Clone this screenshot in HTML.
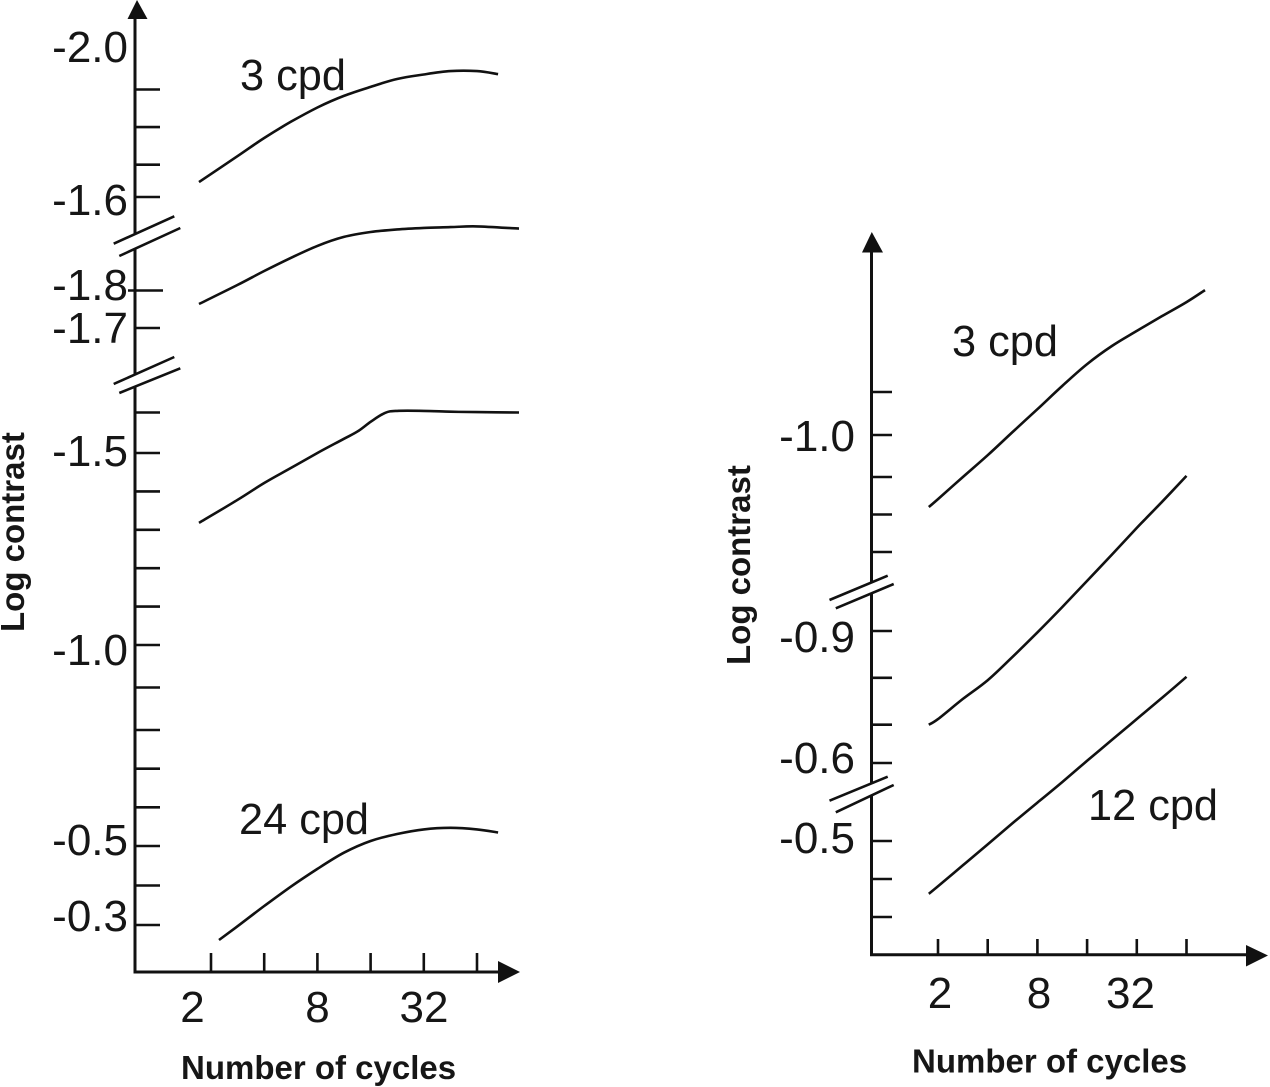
<!DOCTYPE html>
<html lang="en">
<head>
<meta charset="utf-8">
<title>Log contrast vs number of cycles</title>
<style>
  html, body { margin: 0; padding: 0; background: #fff; }
  svg { display: block; }
  text { font-family: "Liberation Sans", Arial, sans-serif; fill: #161616; }
  .tick-label { font-size: 44px; }
  .series-label { font-size: 43.3px; }
  .axis-title { font-size: 33px; font-weight: bold; }
  .axis { stroke: #111; stroke-width: 3; fill: none; }
  .mark { stroke: #111; stroke-width: 2.6; fill: none; }
  .curve { stroke: #111; stroke-width: 2.6; fill: none; stroke-linejoin: round; }
</style>
</head>
<body>
<svg id="chart" xmlns="http://www.w3.org/2000/svg" width="1270" height="1087" viewBox="0 0 1270 1087">
  <rect width="1270" height="1087" fill="#fff"/>

  <g id="left-panel">
    <path class="axis" d="M135 14V973.5"/>
    <path class="axis" d="M133.5 972H505"/>
    <polygon points="137,0 127.5,19 147.5,19" fill="#111"/>
    <polygon points="498,961 520,972 498,983" fill="#111"/>
    <g id="left-ticks"></g>
    <g>
      <polygon points="113.7,243.7 174.3,216.3 180.3,228 119.3,256" fill="#fff"/>
      <path class="mark" d="M113.7 243.7L174.3 216.3M119.3 256L180.3 228"/>
    </g>
    <g>
      <polygon points="113.7,384 174.3,357 180.3,368.3 119.3,393" fill="#fff"/>
      <path class="mark" d="M113.7 384L174.3 357M119.3 393L180.3 368.3"/>
    </g>
    <g id="left-series"></g>

    <text class="tick-label" x="128" y="62" text-anchor="end">-2.0</text>
    <text class="tick-label" x="128" y="215" text-anchor="end">-1.6</text>
    <text class="tick-label" x="128" y="300" text-anchor="end">-1.8</text>
    <text class="tick-label" x="128" y="343" text-anchor="end">-1.7</text>
    <text class="tick-label" x="128" y="466" text-anchor="end">-1.5</text>
    <text class="tick-label" x="128" y="665" text-anchor="end">-1.0</text>
    <text class="tick-label" x="128" y="855" text-anchor="end">-0.5</text>
    <text class="tick-label" x="128" y="931" text-anchor="end">-0.3</text>

    <text class="tick-label" x="192.5" y="1022" text-anchor="middle">2</text>
    <text class="tick-label" x="317.5" y="1022" text-anchor="middle">8</text>
    <text class="tick-label" x="424" y="1022" text-anchor="middle">32</text>

    <text class="series-label" x="240" y="90">3 cpd</text>
    <text class="series-label" x="239" y="834">24 cpd</text>

    <text class="axis-title" x="181" y="1079">Number of cycles</text>
    <text class="axis-title" transform="translate(24 632) rotate(-90)">Log contrast</text>
  </g>

  <g id="right-panel">
    <path class="axis" d="M871.5 245V956"/>
    <path class="axis" d="M870 954.7H1250"/>
    <polygon points="871.8,232 862,252.5 883,252.5" fill="#111"/>
    <polygon points="1246,945 1268,955.5 1246,966.5" fill="#111"/>
    <g id="right-ticks"></g>
    <g>
      <polygon points="829.5,600 887.7,575.7 893.7,584 835.8,608.3" fill="#fff"/>
      <path class="mark" d="M829.5 600L887.7 575.7M835.8 608.3L893.7 584"/>
    </g>
    <g>
      <polygon points="829.5,800.7 887.7,776.7 893.7,785 835.8,812.3" fill="#fff"/>
      <path class="mark" d="M829.5 800.7L887.7 776.7M835.8 812.3L893.7 785"/>
    </g>
    <g id="right-series"></g>

    <text class="tick-label" x="855" y="451" text-anchor="end">-1.0</text>
    <text class="tick-label" x="855" y="652" text-anchor="end">-0.9</text>
    <text class="tick-label" x="855" y="773" text-anchor="end">-0.6</text>
    <text class="tick-label" x="855" y="853" text-anchor="end">-0.5</text>

    <text class="tick-label" x="940" y="1008" text-anchor="middle">2</text>
    <text class="tick-label" x="1039" y="1008" text-anchor="middle">8</text>
    <text class="tick-label" x="1130.5" y="1008" text-anchor="middle">32</text>

    <text class="series-label" x="952" y="356">3 cpd</text>
    <text class="series-label" x="1088" y="820">12 cpd</text>

    <text class="axis-title" x="912" y="1072.5">Number of cycles</text>
    <text class="axis-title" transform="translate(750 665) rotate(-90)">Log contrast</text>
  </g>
</svg>

<script>
// ---- x tick values (number of cycles, log-2 spaced) ----
const leftXTicks = [2, 4, 8, 16, 32, 64];
const rightXTicks = [2, 4, 8, 16, 32, 64];

// ---- y tick values by axis segment (log contrast) ----
const leftTopTicks = [-1.9, -1.8, -1.7, -1.6];
const leftMidTicks = [-1.7];
const leftCrossingTicks = [-1.8];
const leftLowTicks = [-1.6, -1.5, -1.4, -1.3, -1.2, -1.1, -1.0, -0.9, -0.8, -0.7, -0.6, -0.5, -0.4, -0.3];
const rightTopTicks = [-1.1, -1.0, -0.9, -0.8, -0.7];
const rightMidTicks = [-0.9, -0.8, -0.7, -0.6];
const rightLowTicks = [-0.5, -0.4, -0.3];

// ---- left chart series ----
const left3cpdCycles = [1.71, 2.83, 4, 5.66, 8, 11.3, 16, 22.6, 32, 45.3, 64, 84.2];
const left3cpdValues = [-1.646, -1.723, -1.771, -1.814, -1.852, -1.883, -1.907, -1.928, -1.94, -1.949, -1.949, -1.941];
const left6cpdCycles = [1.71, 2.83, 4, 5.66, 8, 11.3, 16, 22.6, 32, 45.3, 64, 110.6];
const left6cpdValues = [-1.764, -1.815, -1.852, -1.887, -1.919, -1.943, -1.956, -1.963, -1.967, -1.969, -1.971, -1.965];
const left12cpdCycles = [1.71, 2.83, 4, 5.66, 8, 11.3, 13.6, 16, 19.3, 22.6, 32, 45.3, 64, 110.6];
const left12cpdValues = [-1.318, -1.378, -1.422, -1.461, -1.5, -1.535, -1.554, -1.577, -1.599, -1.604, -1.604, -1.602, -1.601, -1.6];
const left24cpdCycles = [2.22, 2.83, 4, 5.66, 8, 11.3, 16, 22.6, 32, 45.3, 64, 84.2];
const left24cpdValues = [-0.262, -0.297, -0.348, -0.397, -0.442, -0.483, -0.513, -0.531, -0.543, -0.547, -0.543, -0.535];

// ---- right chart series ----
const rightCycles = [1.76, 2, 2.83, 4, 5.66, 8, 11.3, 16, 22.6, 32, 45.3, 64];
const right3cpdCycles = [1.76, 2, 2.83, 4, 5.66, 8, 11.3, 16, 22.6, 32, 45.3, 64, 82.8];
const right3cpdValues = [-0.82, -0.841, -0.9, -0.952, -1.007, -1.06, -1.114, -1.165, -1.207, -1.242, -1.276, -1.309, -1.337];
const right6cpdValues = [-0.7, -0.712, -0.755, -0.795, -0.845, -0.897, -0.951, -1.007, -1.063, -1.12, -1.175, -1.231];
const right12cpdValues = [-0.361, -0.381, -0.436, -0.491, -0.547, -0.601, -0.655, -0.711, -0.766, -0.821, -0.876, -0.932];

const SVG_NS = 'http://www.w3.org/2000/svg';

// Piecewise-linear axis function, extrapolating past its outer knots.
function piecewise(domain, range) {
  return function (v) {
    let i = 0;
    while (i < domain.length - 2 && v < domain[i + 1]) i++;
    const t = (v - domain[i]) / (domain[i + 1] - domain[i]);
    return range[i] + t * (range[i + 1] - range[i]);
  };
}

function logX(origin, octave) {
  return function (c) { return origin + octave * (Math.log2(c) - 1); };
}

const xLeft = logX(211, 53.2);
const xRight = logX(938, 49.7);
const yLeftTop = piecewise([-1.6, -1.7, -1.9], [197, 164.7, 89.5]);
const yLeftMid = piecewise([-1.7, -1.8], [328, 290.5]);
const yLeftLow = piecewise([-0.3, -0.5, -0.8, -1.0, -1.5, -1.6], [925, 846, 730, 645, 453, 412.5]);
const yRightTop = piecewise([-0.7, -0.9, -1.0, -1.1], [552, 477, 435, 392]);
const yRightMid = piecewise([-0.6, -0.7, -0.9], [763, 724.7, 631]);
const yRightLow = piecewise([-0.3, -0.5], [917, 841]);

function drawYTicks(groupId, ticks, y, x0, x1) {
  const group = document.getElementById(groupId);
  ticks.forEach(function (t) {
    const line = document.createElementNS(SVG_NS, 'line');
    
    
    line.setAttribute('class', 'mark');
    line.setAttribute('x1', x0);
    line.setAttribute('x2', x1);
    line.setAttribute('y1', y(t));
    line.setAttribute('y2', y(t));
    group.appendChild(line);
  });
}

function drawXTicks(groupId, ticks, x, y0, y1) {
  const group = document.getElementById(groupId);
  ticks.forEach(function (t) {
    const line = document.createElementNS(SVG_NS, 'line');
    
    
    line.setAttribute('class', 'mark');
    line.setAttribute('x1', x(t));
    line.setAttribute('x2', x(t));
    line.setAttribute('y1', y0);
    line.setAttribute('y2', y1);
    group.appendChild(line);
  });
}

// Smooth curve through the data points (Catmull-Rom to cubic Bezier).
function drawCurve(groupId, name, cycles, values, x, y) {
  const group = document.getElementById(groupId);
  const path = document.createElementNS(SVG_NS, 'path');
  const pts = cycles.map(function (c, i) { return [x(c), y(values[i])]; });
  let d = 'M' + pts[0][0].toFixed(1) + ' ' + pts[0][1].toFixed(1);
  for (let i = 0; i < pts.length - 1; i++) {
    const p0 = pts[Math.max(i - 1, 0)];
    const p1 = pts[i];
    const p2 = pts[i + 1];
    const p3 = pts[Math.min(i + 2, pts.length - 1)];
    const c1x = p1[0] + (p2[0] - p0[0]) / 6;
    const c1y = p1[1] + (p2[1] - p0[1]) / 6;
    const c2x = p2[0] - (p3[0] - p1[0]) / 6;
    const c2y = p2[1] - (p3[1] - p1[1]) / 6;
    d += 'C' + c1x.toFixed(1) + ' ' + c1y.toFixed(1) + ' ' + c2x.toFixed(1) + ' ' + c2y.toFixed(1) + ' ' + p2[0].toFixed(1) + ' ' + p2[1].toFixed(1);
  }
  
  
  path.setAttribute('class', 'curve');
  path.setAttribute('d', d);
  group.appendChild(path);
}

drawYTicks('left-ticks', leftTopTicks, yLeftTop, 135, 160);
drawYTicks('left-ticks', leftMidTicks, yLeftMid, 135, 160);
drawYTicks('left-ticks', leftCrossingTicks, yLeftMid, 128, 163);
drawYTicks('left-ticks', leftLowTicks, yLeftLow, 135, 160);
drawXTicks('left-ticks', leftXTicks, xLeft, 953, 972);

drawYTicks('right-ticks', rightTopTicks, yRightTop, 871.5, 892);
drawYTicks('right-ticks', rightMidTicks, yRightMid, 871.5, 892);
drawYTicks('right-ticks', rightLowTicks, yRightLow, 871.5, 892);
drawXTicks('right-ticks', rightXTicks, xRight, 939, 955);

drawCurve('left-series', 'left-curve-3-cpd', left3cpdCycles, left3cpdValues, xLeft, yLeftTop);
drawCurve('left-series', 'left-curve-second', left6cpdCycles, left6cpdValues, xLeft, yLeftMid);
drawCurve('left-series', 'left-curve-third', left12cpdCycles, left12cpdValues, xLeft, yLeftLow);
drawCurve('left-series', 'left-curve-24-cpd', left24cpdCycles, left24cpdValues, xLeft, yLeftLow);

drawCurve('right-series', 'right-curve-3-cpd', right3cpdCycles, right3cpdValues, xRight, yRightTop);
drawCurve('right-series', 'right-curve-middle', rightCycles, right6cpdValues, xRight, yRightMid);
drawCurve('right-series', 'right-curve-12-cpd', rightCycles, right12cpdValues, xRight, yRightLow);
</script>
</body>
</html>
